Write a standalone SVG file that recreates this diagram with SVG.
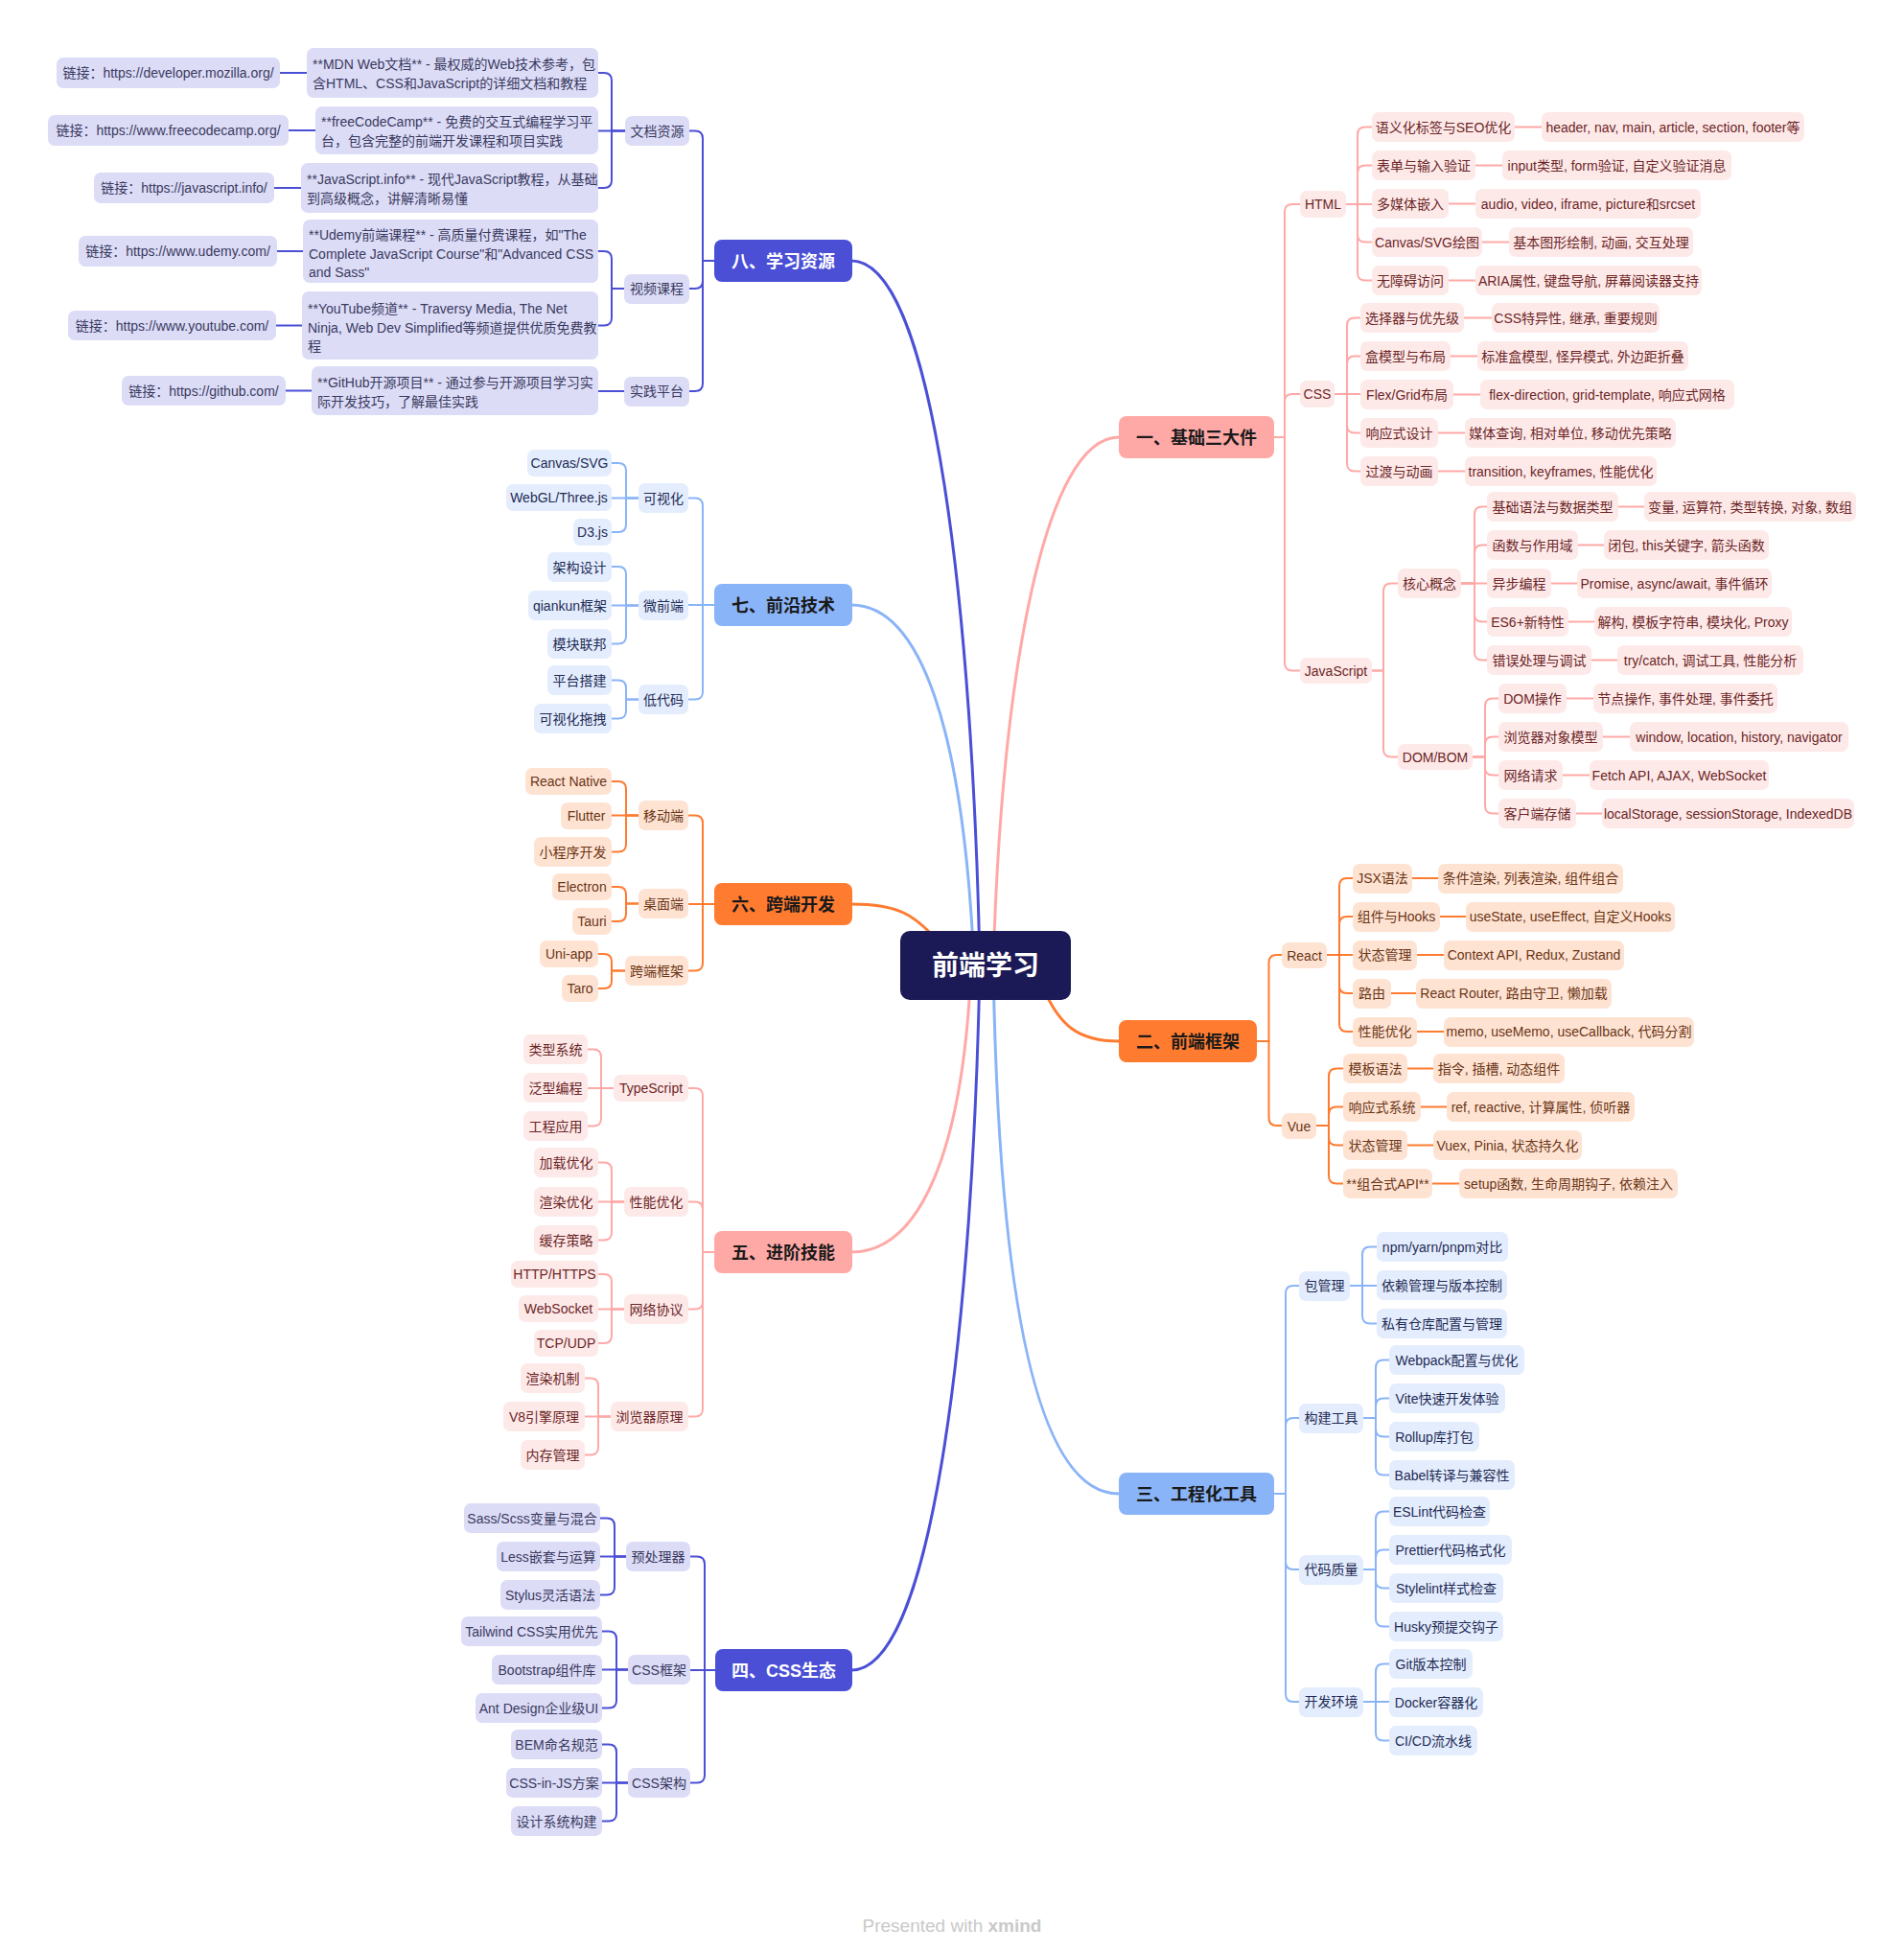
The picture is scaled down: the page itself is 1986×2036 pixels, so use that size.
<svg xmlns="http://www.w3.org/2000/svg" width="1986" height="2036" viewBox="0 0 1986 2036">
<style>
text{font-family:"Liberation Sans","Noto Sans CJK SC",sans-serif;font-size:14px;text-anchor:middle}
.l text{text-anchor:start}
.main text{font-size:18px;font-weight:bold;fill:#1a1a1a}
.main.w text{fill:#ffffff}
.root{font-size:28px;font-weight:bold;fill:#ffffff}
.ni rect{fill:#DCDCF7}.ni text{fill:#3A3A5E}
.nb rect{fill:#E4EDFD}.nb text{fill:#1E2B55}
.no rect{fill:#FEE3D3}.no text{fill:#6B3515}
.np rect{fill:#FEE9E9}.np text{fill:#6B2626}
#connectors path{fill:none;stroke-width:2;stroke-linecap:round}
#connectors .m path{stroke-width:3}
.ki path{stroke:#4A4FD6}.kb path{stroke:#8AB4F8}.ko path{stroke:#FF7B30}.kp path{stroke:#FFA9A7}
.foot{font-size:19px;fill:#C9C9C9}
</style>
<rect x="0" y="0" width="1986" height="2036" fill="#ffffff"/>
<g id="connectors">
 <g class="m ki"><path d="M888 272 C975 272 1015 650 1022 1007"/><path d="M888 1742 C975 1742 1015 1365 1022 1007"/></g>
 <g class="m kb"><path d="M888 631 C960 631 1005 760 1016 1007"/><path d="M1167 1558 C1085 1558 1042 1370 1036 1007"/></g>
 <g class="m ko"><path d="M888 943 C935 943 955 952 985 990"/><path d="M1167 1086 C1125 1086 1105 1070 1088 1030"/></g>
 <g class="m kp"><path d="M888 1306 C960 1306 1005 1200 1013 1007"/><path d="M1167 456 C1090 456 1045 700 1036 1007"/></g>
 <g class="ki">
  <path d="M745 272 H733 V144.5 Q733 136.5 725 136.5 H719"/>
  <path d="M745 272 H733 V293 Q733 301 725 301 H719"/>
  <path d="M745 272 H733 V400 Q733 408 725 408 H719"/>
  <path d="M652 136.5 H638 V84 Q638 76 630 76 H624"/>
  <path d="M652 136.5 H624"/>
  <path d="M652 136.5 H638 V188 Q638 196 630 196 H624"/>
  <path d="M292 76 H320"/><path d="M301 136 H329"/><path d="M286 196 H314"/>
  <path d="M651 301 H638 V270 Q638 262 630 262 H624"/>
  <path d="M651 301 H638 V331.5 Q638 339.5 630 339.5 H624"/>
  <path d="M289 262 H316"/><path d="M288 339.5 H315"/>
  <path d="M651 408 H624"/><path d="M298 407.5 H325"/>
  <path d="M746 1742 H735 V1631.5 Q735 1623.5 727 1623.5 H720"/>
  <path d="M746 1742 H720"/>
  <path d="M746 1742 H735 V1851.5 Q735 1859.5 727 1859.5 H720"/>
  <path d="M653 1623.5 H641 V1591.5 Q641 1583.5 633 1583.5 H626"/>
  <path d="M653 1623.5 H626"/>
  <path d="M653 1623.5 H641 V1655.5 Q641 1663.5 633 1663.5 H626"/>
  <path d="M655 1741.5 H643 V1709.5 Q643 1701.5 635 1701.5 H628"/>
  <path d="M655 1741.5 H628"/>
  <path d="M655 1741.5 H643 V1773.5 Q643 1781.5 635 1781.5 H628"/>
  <path d="M655 1859.5 H643 V1827.5 Q643 1819.5 635 1819.5 H628"/>
  <path d="M655 1859.5 H628"/>
  <path d="M655 1859.5 H643 V1891.5 Q643 1899.5 635 1899.5 H628"/>
 </g>
 <g class="kb">
  <path d="M745 631 H733 V527.5 Q733 519.5 725 519.5 H718"/>
  <path d="M745 631 H718"/>
  <path d="M745 631 H733 V721.5 Q733 729.5 725 729.5 H718"/>
  <path d="M666 519.5 H653 V491 Q653 483 645 483 H638"/>
  <path d="M666 519.5 H638"/>
  <path d="M666 519.5 H653 V547 Q653 555 645 555 H638"/>
  <path d="M666 631.5 H653 V599 Q653 591 645 591 H638"/>
  <path d="M666 631.5 H638"/>
  <path d="M666 631.5 H653 V663.5 Q653 671.5 645 671.5 H638"/>
  <path d="M666 729.5 H653 V717.5 Q653 709.5 645 709.5 H638"/>
  <path d="M666 729.5 H653 V741.5 Q653 749.5 645 749.5 H638"/>
  <path d="M1329 1558 H1341 V1349 Q1341 1341 1349 1341 H1355"/>
  <path d="M1329 1558 H1341 V1487 Q1341 1479 1349 1479 H1355"/>
  <path d="M1329 1558 H1341 V1629 Q1341 1637 1349 1637 H1355"/>
  <path d="M1329 1558 H1341 V1767 Q1341 1775 1349 1775 H1355"/>
  <path d="M1408 1341 H1421 V1308.5 Q1421 1300.5 1429 1300.5 H1436"/>
  <path d="M1408 1341 H1436"/>
  <path d="M1408 1341 H1421 V1372.5 Q1421 1380.5 1429 1380.5 H1436"/>
  <path d="M1422 1479 H1435 V1426.5 Q1435 1418.5 1443 1418.5 H1449"/>
  <path d="M1422 1479 H1435 V1466.5 Q1435 1458.5 1443 1458.5 H1449"/>
  <path d="M1422 1479 H1435 V1490.5 Q1435 1498.5 1443 1498.5 H1449"/>
  <path d="M1422 1479 H1435 V1530.5 Q1435 1538.5 1443 1538.5 H1449"/>
  <path d="M1422 1637 H1435 V1584.5 Q1435 1576.5 1443 1576.5 H1449"/>
  <path d="M1422 1637 H1435 V1624.5 Q1435 1616.5 1443 1616.5 H1449"/>
  <path d="M1422 1637 H1435 V1648.5 Q1435 1656.5 1443 1656.5 H1449"/>
  <path d="M1422 1637 H1435 V1688.5 Q1435 1696.5 1443 1696.5 H1449"/>
  <path d="M1422 1775 H1435 V1743.5 Q1435 1735.5 1443 1735.5 H1449"/>
  <path d="M1422 1775 H1449"/>
  <path d="M1422 1775 H1435 V1807.5 Q1435 1815.5 1443 1815.5 H1449"/>
 </g>
 <g class="ko">
  <path d="M745 943 H733 V858.5 Q733 850.5 725 850.5 H718"/>
  <path d="M745 943 H718"/>
  <path d="M745 943 H733 V1004.5 Q733 1012.5 725 1012.5 H718"/>
  <path d="M666 850.5 H653 V823 Q653 815 645 815 H638"/>
  <path d="M666 850.5 H638"/>
  <path d="M666 850.5 H653 V880.5 Q653 888.5 645 888.5 H638"/>
  <path d="M666 942.5 H653 V933 Q653 925 645 925 H638"/>
  <path d="M666 942.5 H653 V953 Q653 961 645 961 H638"/>
  <path d="M652 1012.5 H638 V1003 Q638 995 630 995 H624"/>
  <path d="M652 1012.5 H638 V1023 Q638 1031 630 1031 H624"/>
  <path d="M1311 1086 H1323.5 V1004 Q1323.5 996 1331.5 996 H1337"/>
  <path d="M1311 1086 H1323.5 V1166 Q1323.5 1174 1331.5 1174 H1337"/>
  <path d="M1384 996 H1397 V924 Q1397 916 1405 916 H1411"/>
  <path d="M1384 996 H1397 V964 Q1397 956 1405 956 H1411"/>
  <path d="M1384 996 H1411"/>
  <path d="M1384 996 H1397 V1028 Q1397 1036 1405 1036 H1411"/>
  <path d="M1384 996 H1397 V1068 Q1397 1076 1405 1076 H1411"/>
  <path d="M1473 916 H1500"/><path d="M1502 956 H1529"/><path d="M1478 996 H1506"/><path d="M1451 1036 H1477"/><path d="M1478 1076 H1506"/>
  <path d="M1373 1174 H1386 V1122.5 Q1386 1114.5 1394 1114.5 H1401"/>
  <path d="M1373 1174 H1386 V1162.5 Q1386 1154.5 1394 1154.5 H1401"/>
  <path d="M1373 1174 H1386 V1186.5 Q1386 1194.5 1394 1194.5 H1401"/>
  <path d="M1373 1174 H1386 V1226.5 Q1386 1234.5 1394 1234.5 H1401"/>
  <path d="M1468 1114.5 H1495"/><path d="M1482 1154.5 H1509"/><path d="M1468 1194.5 H1495"/><path d="M1494 1234.5 H1522"/>
 </g>
 <g class="kp">
  <path d="M745 1306 H733 V1143 Q733 1135 725 1135 H718"/>
  <path d="M745 1306 H733 V1261.5 Q733 1253.5 725 1253.5 H718"/>
  <path d="M745 1306 H733 V1357.5 Q733 1365.5 725 1365.5 H718"/>
  <path d="M745 1306 H733 V1469.5 Q733 1477.5 725 1477.5 H718"/>
  <path d="M640 1135 H627 V1102.5 Q627 1094.5 619 1094.5 H613"/>
  <path d="M640 1135 H613"/>
  <path d="M640 1135 H627 V1166.5 Q627 1174.5 619 1174.5 H613"/>
  <path d="M651 1253.5 H638 V1220.5 Q638 1212.5 630 1212.5 H624"/>
  <path d="M651 1253.5 H624"/>
  <path d="M651 1253.5 H638 V1285.5 Q638 1293.5 630 1293.5 H624"/>
  <path d="M651 1365.5 H638 V1337 Q638 1329 630 1329 H624"/>
  <path d="M651 1365.5 H624"/>
  <path d="M651 1365.5 H638 V1393 Q638 1401 630 1401 H624"/>
  <path d="M637 1477.5 H624 V1445.5 Q624 1437.5 616 1437.5 H610"/>
  <path d="M637 1477.5 H610"/>
  <path d="M637 1477.5 H624 V1509.5 Q624 1517.5 616 1517.5 H610"/>
  <path d="M1329 456 H1340 V221 Q1340 213 1348 213 H1356"/>
  <path d="M1329 456 H1340 V419 Q1340 411 1348 411 H1356"/>
  <path d="M1329 456 H1340 V691.5 Q1340 699.5 1348 699.5 H1356"/>
  <path d="M1404 213 H1416 V140.5 Q1416 132.5 1424 132.5 H1431"/>
  <path d="M1404 213 H1416 V180.5 Q1416 172.5 1424 172.5 H1431"/>
  <path d="M1404 213 H1431"/>
  <path d="M1404 213 H1416 V244.5 Q1416 252.5 1424 252.5 H1431"/>
  <path d="M1404 213 H1416 V284.5 Q1416 292.5 1424 292.5 H1431"/>
  <path d="M1580 132.5 H1608"/><path d="M1539 172.5 H1567"/><path d="M1511 212.5 H1539"/><path d="M1546 252.5 H1574"/><path d="M1511 292.5 H1539"/>
  <path d="M1392 411 H1405 V339.5 Q1405 331.5 1413 331.5 H1419"/>
  <path d="M1392 411 H1405 V379.5 Q1405 371.5 1413 371.5 H1419"/>
  <path d="M1392 411 H1419"/>
  <path d="M1392 411 H1405 V443.5 Q1405 451.5 1413 451.5 H1419"/>
  <path d="M1392 411 H1405 V483.5 Q1405 491.5 1413 491.5 H1419"/>
  <path d="M1527 331.5 H1556"/><path d="M1513 371.5 H1541"/><path d="M1516 411.5 H1544"/><path d="M1500 451.5 H1528"/><path d="M1500 491.5 H1528"/>
  <path d="M1431 699.5 H1443 V616.5 Q1443 608.5 1451 608.5 H1458"/>
  <path d="M1431 699.5 H1443 V781.5 Q1443 789.5 1451 789.5 H1458"/>
  <path d="M1524 608.5 H1538 V536.5 Q1538 528.5 1546 528.5 H1551"/>
  <path d="M1524 608.5 H1538 V576.5 Q1538 568.5 1546 568.5 H1551"/>
  <path d="M1524 608.5 H1551"/>
  <path d="M1524 608.5 H1538 V640.5 Q1538 648.5 1546 648.5 H1551"/>
  <path d="M1524 608.5 H1538 V680.5 Q1538 688.5 1546 688.5 H1551"/>
  <path d="M1688 528.5 H1715"/><path d="M1646 568.5 H1673"/><path d="M1618 608.5 H1645"/><path d="M1636 648.5 H1663"/><path d="M1660 688.5 H1687"/>
  <path d="M1536 789.5 H1549 V736.5 Q1549 728.5 1557 728.5 H1563"/>
  <path d="M1536 789.5 H1549 V776.5 Q1549 768.5 1557 768.5 H1563"/>
  <path d="M1536 789.5 H1549 V800.5 Q1549 808.5 1557 808.5 H1563"/>
  <path d="M1536 789.5 H1549 V840.5 Q1549 848.5 1557 848.5 H1563"/>
  <path d="M1634 728.5 H1662"/><path d="M1672 768.5 H1700"/><path d="M1630 808.5 H1658"/><path d="M1644 848.5 H1671"/>
 </g>
</g>
<g id="n-root"><rect x="939" y="971" width="178" height="72" rx="10" fill="#1C1A56"/><text class="root" x="1028" y="1017">前端学习</text></g>
<g id="n-b8" class="main w"><rect x="745" y="250" width="144" height="44" rx="8" fill="#4A4FD6"/><text x="817" y="278.5">八、学习资源</text></g>
<g id="n-b7" class="main"><rect x="745" y="609" width="144" height="44" rx="8" fill="#8AB4F8"/><text x="817" y="637.5">七、前沿技术</text></g>
<g id="n-b6" class="main"><rect x="745" y="921" width="144" height="44" rx="8" fill="#FF7B30"/><text x="817" y="949.5">六、跨端开发</text></g>
<g id="n-b5" class="main"><rect x="745" y="1284" width="144" height="44" rx="8" fill="#FFA9A7"/><text x="817" y="1312.5">五、进阶技能</text></g>
<g id="n-b4" class="main w"><rect x="746" y="1720" width="143" height="44" rx="8" fill="#4A4FD6"/><text x="817.5" y="1748.5">四、CSS生态</text></g>
<g id="n-b1" class="main"><rect x="1167" y="434" width="162" height="44" rx="8" fill="#FFA9A7"/><text x="1248" y="462.5">一、基础三大件</text></g>
<g id="n-b2" class="main"><rect x="1167" y="1064" width="144" height="44" rx="8" fill="#FF7B30"/><text x="1239" y="1092.5">二、前端框架</text></g>
<g id="n-b3" class="main"><rect x="1167" y="1536" width="162" height="44" rx="8" fill="#8AB4F8"/><text x="1248" y="1564.5">三、工程化工具</text></g>

<g class="ni">
 <g id="n8-docs"><rect x="652" y="121" width="67" height="31" rx="7"/><text x="685.5" y="141.5">文档资源</text></g>
 <g id="n8-video"><rect x="651" y="286" width="68" height="31" rx="7"/><text x="685" y="306">视频课程</text></g>
 <g id="n8-prac"><rect x="651" y="393" width="68" height="31" rx="7"/><text x="685" y="413">实践平台</text></g>
 <g id="n8-mdn" class="l"><rect x="320" y="50" width="304" height="52" rx="7"/><text x="326" y="71.5">**MDN Web文档** - 最权威的Web技术参考，包</text><text x="326" y="92">含HTML、CSS和JavaScript的详细文档和教程</text></g>
 <g id="n8-mdn-link"><rect x="59" y="60" width="233" height="32" rx="7"/><text x="175.5" y="81">链接：https://developer.mozilla.org/</text></g>
 <g id="n8-fcc" class="l"><rect x="329" y="111" width="295" height="50" rx="7"/><text x="335" y="132">**freeCodeCamp** - 免费的交互式编程学习平</text><text x="335" y="152">台，包含完整的前端开发课程和项目实践</text></g>
 <g id="n8-fcc-link"><rect x="50" y="120" width="251" height="32" rx="7"/><text x="175.5" y="141">链接：https://www.freecodecamp.org/</text></g>
 <g id="n8-jsinfo" class="l"><rect x="314" y="170" width="310" height="52" rx="7"/><text x="320" y="191.5">**JavaScript.info** - 现代JavaScript教程，从基础</text><text x="320" y="211.5">到高级概念，讲解清晰易懂</text></g>
 <g id="n8-jsinfo-link"><rect x="98" y="180" width="188" height="32" rx="7"/><text x="192" y="201">链接：https://javascript.info/</text></g>
 <g id="n8-udemy" class="l"><rect x="316" y="229" width="308" height="66" rx="7"/><text x="322" y="249.5">**Udemy前端课程** - 高质量付费课程，如"The</text><text x="322" y="269.5">Complete JavaScript Course"和"Advanced CSS</text><text x="322" y="289">and Sass"</text></g>
 <g id="n8-udemy-link"><rect x="82" y="246" width="207" height="32" rx="7"/><text x="185.5" y="267">链接：https://www.udemy.com/</text></g>
 <g id="n8-yt" class="l"><rect x="315" y="304" width="309" height="71" rx="7"/><text x="321" y="326.5">**YouTube频道** - Traversy Media, The Net</text><text x="321" y="346.5">Ninja, Web Dev Simplified等频道提供优质免费教</text><text x="321" y="366">程</text></g>
 <g id="n8-yt-link"><rect x="71" y="324" width="217" height="31" rx="7"/><text x="179.5" y="344.5">链接：https://www.youtube.com/</text></g>
 <g id="n8-gh" class="l"><rect x="325" y="382" width="299" height="51" rx="7"/><text x="331" y="403.5">**GitHub开源项目** - 通过参与开源项目学习实</text><text x="331" y="423.5">际开发技巧，了解最佳实践</text></g>
 <g id="n8-gh-link"><rect x="127" y="392" width="171" height="31" rx="7"/><text x="212.5" y="412.5">链接：https://github.com/</text></g>

 <g id="n4-pre"><rect x="653" y="1608" width="67" height="31" rx="7"/><text x="686.5" y="1628.5">预处理器</text></g>
 <g id="n4-fw"><rect x="655" y="1726" width="65" height="31" rx="7"/><text x="687.5" y="1746.5">CSS框架</text></g>
 <g id="n4-arch"><rect x="655" y="1844" width="65" height="31" rx="7"/><text x="687.5" y="1864.5">CSS架构</text></g>
 <g id="n4-sass"><rect x="484" y="1568" width="142" height="31" rx="7"/><text x="555" y="1588.5">Sass/Scss变量与混合</text></g>
 <g id="n4-less"><rect x="518" y="1608" width="108" height="31" rx="7"/><text x="572" y="1628.5">Less嵌套与运算</text></g>
 <g id="n4-stylus"><rect x="522" y="1648" width="104" height="31" rx="7"/><text x="574" y="1668.5">Stylus灵活语法</text></g>
 <g id="n4-tw"><rect x="481" y="1686" width="147" height="31" rx="7"/><text x="554.5" y="1706.5">Tailwind CSS实用优先</text></g>
 <g id="n4-bs"><rect x="513" y="1726" width="115" height="31" rx="7"/><text x="570.5" y="1746.5">Bootstrap组件库</text></g>
 <g id="n4-ant"><rect x="496" y="1766" width="132" height="31" rx="7"/><text x="562" y="1786.5">Ant Design企业级UI</text></g>
 <g id="n4-bem"><rect x="533" y="1804" width="95" height="31" rx="7"/><text x="580.5" y="1824.5">BEM命名规范</text></g>
 <g id="n4-cssinjs"><rect x="528" y="1844" width="100" height="31" rx="7"/><text x="578" y="1864.5">CSS-in-JS方案</text></g>
 <g id="n4-ds"><rect x="533" y="1884" width="95" height="31" rx="7"/><text x="580.5" y="1904.5">设计系统构建</text></g>
</g>

<g class="nb">
 <g id="n7-vis"><rect x="666" y="504" width="52" height="31" rx="7"/><text x="692" y="524.5">可视化</text></g>
 <g id="n7-mfe"><rect x="666" y="616" width="52" height="31" rx="7"/><text x="692" y="636.5">微前端</text></g>
 <g id="n7-lc"><rect x="666" y="714" width="52" height="31" rx="7"/><text x="692" y="734.5">低代码</text></g>
 <g id="n7-canvas"><rect x="550" y="469" width="88" height="28" rx="7"/><text x="594" y="488">Canvas/SVG</text></g>
 <g id="n7-webgl"><rect x="528" y="505" width="110" height="28" rx="7"/><text x="583" y="524">WebGL/Three.js</text></g>
 <g id="n7-d3"><rect x="598" y="541" width="40" height="28" rx="7"/><text x="618" y="560">D3.js</text></g>
 <g id="n7-arch"><rect x="571" y="576" width="67" height="31" rx="7"/><text x="604.5" y="596.5">架构设计</text></g>
 <g id="n7-qk"><rect x="551" y="616" width="87" height="31" rx="7"/><text x="594.5" y="636.5">qiankun框架</text></g>
 <g id="n7-mf"><rect x="571" y="656" width="67" height="31" rx="7"/><text x="604.5" y="676.5">模块联邦</text></g>
 <g id="n7-plat"><rect x="571" y="694" width="67" height="31" rx="7"/><text x="604.5" y="714.5">平台搭建</text></g>
 <g id="n7-drag"><rect x="557" y="734" width="81" height="31" rx="7"/><text x="597.5" y="754.5">可视化拖拽</text></g>

 <g id="n3-pkg"><rect x="1355" y="1326" width="53" height="31" rx="7"/><text x="1381.5" y="1346">包管理</text></g>
 <g id="n3-build"><rect x="1355" y="1464" width="67" height="31" rx="7"/><text x="1388.5" y="1484">构建工具</text></g>
 <g id="n3-quality"><rect x="1355" y="1622" width="67" height="31" rx="7"/><text x="1388.5" y="1642">代码质量</text></g>
 <g id="n3-env"><rect x="1355" y="1760" width="67" height="31" rx="7"/><text x="1388.5" y="1780">开发环境</text></g>
 <g id="n3-npm"><rect x="1436" y="1285" width="137" height="31" rx="7"/><text x="1504.5" y="1305.5">npm/yarn/pnpm对比</text></g>
 <g id="n3-dep"><rect x="1436" y="1325" width="136" height="31" rx="7"/><text x="1504" y="1345.5">依赖管理与版本控制</text></g>
 <g id="n3-priv"><rect x="1436" y="1365" width="136" height="31" rx="7"/><text x="1504" y="1385.5">私有仓库配置与管理</text></g>
 <g id="n3-webpack"><rect x="1449" y="1403" width="141" height="31" rx="7"/><text x="1519.5" y="1423.5">Webpack配置与优化</text></g>
 <g id="n3-vite"><rect x="1449" y="1443" width="121" height="31" rx="7"/><text x="1509.5" y="1463.5">Vite快速开发体验</text></g>
 <g id="n3-rollup"><rect x="1449" y="1483" width="94" height="31" rx="7"/><text x="1496" y="1503.5">Rollup库打包</text></g>
 <g id="n3-babel"><rect x="1449" y="1523" width="131" height="31" rx="7"/><text x="1514.5" y="1543.5">Babel转译与兼容性</text></g>
 <g id="n3-eslint"><rect x="1449" y="1561" width="105" height="31" rx="7"/><text x="1501.5" y="1581.5">ESLint代码检查</text></g>
 <g id="n3-prettier"><rect x="1449" y="1601" width="128" height="31" rx="7"/><text x="1513" y="1621.5">Prettier代码格式化</text></g>
 <g id="n3-stylelint"><rect x="1449" y="1641" width="119" height="31" rx="7"/><text x="1508.5" y="1661.5">Stylelint样式检查</text></g>
 <g id="n3-husky"><rect x="1449" y="1681" width="119" height="31" rx="7"/><text x="1508.5" y="1701.5">Husky预提交钩子</text></g>
 <g id="n3-git"><rect x="1449" y="1720" width="87" height="31" rx="7"/><text x="1492.5" y="1740.5">Git版本控制</text></g>
 <g id="n3-docker"><rect x="1449" y="1760" width="98" height="31" rx="7"/><text x="1498" y="1780.5">Docker容器化</text></g>
 <g id="n3-cicd"><rect x="1449" y="1800" width="92" height="31" rx="7"/><text x="1495" y="1820.5">CI/CD流水线</text></g>
</g>

<g class="no">
 <g id="n6-mobile"><rect x="666" y="835" width="52" height="31" rx="7"/><text x="692" y="855.5">移动端</text></g>
 <g id="n6-desk"><rect x="666" y="927" width="52" height="31" rx="7"/><text x="692" y="947.5">桌面端</text></g>
 <g id="n6-cross"><rect x="652" y="997" width="66" height="31" rx="7"/><text x="685" y="1017.5">跨端框架</text></g>
 <g id="n6-rn"><rect x="548" y="801" width="90" height="28" rx="7"/><text x="593" y="820">React Native</text></g>
 <g id="n6-flutter"><rect x="585" y="837" width="53" height="28" rx="7"/><text x="611.5" y="856">Flutter</text></g>
 <g id="n6-mini"><rect x="557" y="873" width="81" height="31" rx="7"/><text x="597.5" y="893.5">小程序开发</text></g>
 <g id="n6-electron"><rect x="576" y="911" width="62" height="28" rx="7"/><text x="607" y="930">Electron</text></g>
 <g id="n6-tauri"><rect x="597" y="947" width="41" height="28" rx="7"/><text x="617.5" y="966">Tauri</text></g>
 <g id="n6-uni"><rect x="563" y="981" width="61" height="28" rx="7"/><text x="593.5" y="1000">Uni-app</text></g>
 <g id="n6-taro"><rect x="586" y="1017" width="38" height="28" rx="7"/><text x="605" y="1036">Taro</text></g>

 <g id="n2-react"><rect x="1337" y="983" width="47" height="27" rx="7"/><text x="1360.5" y="1001.5">React</text></g>
 <g id="n2-vue"><rect x="1337" y="1161" width="36" height="27" rx="7"/><text x="1355" y="1179.5">Vue</text></g>
 <g id="n2-jsx"><rect x="1411" y="901" width="62" height="31" rx="7"/><text x="1442" y="921">JSX语法</text></g>
 <g id="n2-jsx-v"><rect x="1500" y="901" width="193" height="31" rx="7"/><text x="1596.5" y="921">条件渲染, 列表渲染, 组件组合</text></g>
 <g id="n2-hooks"><rect x="1411" y="941" width="91" height="31" rx="7"/><text x="1456.5" y="961">组件与Hooks</text></g>
 <g id="n2-hooks-v"><rect x="1529" y="941" width="218" height="31" rx="7"/><text x="1638" y="961">useState, useEffect, 自定义Hooks</text></g>
 <g id="n2-rstate"><rect x="1411" y="981" width="67" height="31" rx="7"/><text x="1444.5" y="1001">状态管理</text></g>
 <g id="n2-rstate-v"><rect x="1506" y="981" width="188" height="31" rx="7"/><text x="1600" y="1001">Context API, Redux, Zustand</text></g>
 <g id="n2-router"><rect x="1411" y="1021" width="40" height="31" rx="7"/><text x="1431" y="1041">路由</text></g>
 <g id="n2-router-v"><rect x="1477" y="1021" width="204" height="31" rx="7"/><text x="1579" y="1041">React Router, 路由守卫, 懒加载</text></g>
 <g id="n2-perf"><rect x="1411" y="1061" width="67" height="31" rx="7"/><text x="1444.5" y="1081">性能优化</text></g>
 <g id="n2-perf-v"><rect x="1506" y="1061" width="261" height="31" rx="7"/><text x="1636.5" y="1081">memo, useMemo, useCallback, 代码分割</text></g>
 <g id="n2-tpl"><rect x="1401" y="1099" width="67" height="31" rx="7"/><text x="1434.5" y="1119.5">模板语法</text></g>
 <g id="n2-tpl-v"><rect x="1495" y="1099" width="137" height="31" rx="7"/><text x="1563.5" y="1119.5">指令, 插槽, 动态组件</text></g>
 <g id="n2-reac"><rect x="1401" y="1139" width="81" height="31" rx="7"/><text x="1441.5" y="1159.5">响应式系统</text></g>
 <g id="n2-reac-v"><rect x="1509" y="1139" width="196" height="31" rx="7"/><text x="1607" y="1159.5">ref, reactive, 计算属性, 侦听器</text></g>
 <g id="n2-vstate"><rect x="1401" y="1179" width="67" height="31" rx="7"/><text x="1434.5" y="1199.5">状态管理</text></g>
 <g id="n2-vstate-v"><rect x="1495" y="1179" width="155" height="31" rx="7"/><text x="1572.5" y="1199.5">Vuex, Pinia, 状态持久化</text></g>
 <g id="n2-comp"><rect x="1401" y="1219" width="93" height="31" rx="7"/><text x="1447.5" y="1239.5">**组合式API**</text></g>
 <g id="n2-comp-v"><rect x="1522" y="1219" width="228" height="31" rx="7"/><text x="1636" y="1239.5">setup函数, 生命周期钩子, 依赖注入</text></g>
</g>

<g class="np">
 <g id="n5-ts"><rect x="640" y="1121" width="78" height="28" rx="7"/><text x="679" y="1140">TypeScript</text></g>
 <g id="n5-perf"><rect x="651" y="1238" width="67" height="31" rx="7"/><text x="684.5" y="1258.5">性能优化</text></g>
 <g id="n5-net"><rect x="651" y="1350" width="67" height="31" rx="7"/><text x="684.5" y="1370.5">网络协议</text></g>
 <g id="n5-browser"><rect x="637" y="1462" width="81" height="31" rx="7"/><text x="677.5" y="1482.5">浏览器原理</text></g>
 <g id="n5-types"><rect x="546" y="1079" width="67" height="31" rx="7"/><text x="579.5" y="1099.5">类型系统</text></g>
 <g id="n5-generic"><rect x="546" y="1119" width="67" height="31" rx="7"/><text x="579.5" y="1139.5">泛型编程</text></g>
 <g id="n5-eng"><rect x="546" y="1159" width="67" height="31" rx="7"/><text x="579.5" y="1179.5">工程应用</text></g>
 <g id="n5-load"><rect x="557" y="1197" width="67" height="31" rx="7"/><text x="590.5" y="1217.5">加载优化</text></g>
 <g id="n5-render"><rect x="557" y="1238" width="67" height="31" rx="7"/><text x="590.5" y="1258.5">渲染优化</text></g>
 <g id="n5-cache"><rect x="557" y="1278" width="67" height="31" rx="7"/><text x="590.5" y="1298.5">缓存策略</text></g>
 <g id="n5-http"><rect x="533" y="1315" width="91" height="28" rx="7"/><text x="578.5" y="1334">HTTP/HTTPS</text></g>
 <g id="n5-ws"><rect x="541" y="1351" width="83" height="28" rx="7"/><text x="582.5" y="1370">WebSocket</text></g>
 <g id="n5-tcp"><rect x="557" y="1387" width="67" height="28" rx="7"/><text x="590.5" y="1406">TCP/UDP</text></g>
 <g id="n5-rmech"><rect x="543" y="1422" width="67" height="31" rx="7"/><text x="576.5" y="1442.5">渲染机制</text></g>
 <g id="n5-v8"><rect x="525" y="1462" width="85" height="31" rx="7"/><text x="567.5" y="1482.5">V8引擎原理</text></g>
 <g id="n5-mem"><rect x="543" y="1502" width="67" height="31" rx="7"/><text x="576.5" y="1522.5">内存管理</text></g>

 <g id="n1-html"><rect x="1356" y="199" width="48" height="28" rx="7"/><text x="1380" y="218">HTML</text></g>
 <g id="n1-css"><rect x="1356" y="397" width="36" height="28" rx="7"/><text x="1374" y="416">CSS</text></g>
 <g id="n1-js"><rect x="1356" y="686" width="75" height="27" rx="7"/><text x="1393.5" y="704.5">JavaScript</text></g>
 <g id="n1-seo"><rect x="1431" y="117" width="149" height="31" rx="7"/><text x="1505.5" y="137.5">语义化标签与SEO优化</text></g>
 <g id="n1-seo-v"><rect x="1608" y="117" width="274" height="31" rx="7"/><text x="1745" y="137.5">header, nav, main, article, section, footer等</text></g>
 <g id="n1-form"><rect x="1431" y="157" width="108" height="31" rx="7"/><text x="1485" y="177.5">表单与输入验证</text></g>
 <g id="n1-form-v"><rect x="1567" y="157" width="239" height="31" rx="7"/><text x="1686.5" y="177.5">input类型, form验证, 自定义验证消息</text></g>
 <g id="n1-media"><rect x="1431" y="197" width="80" height="31" rx="7"/><text x="1471" y="217.5">多媒体嵌入</text></g>
 <g id="n1-media-v"><rect x="1539" y="197" width="235" height="31" rx="7"/><text x="1656.5" y="217.5">audio, video, iframe, picture和srcset</text></g>
 <g id="n1-canvas"><rect x="1431" y="237" width="115" height="31" rx="7"/><text x="1488.5" y="257.5">Canvas/SVG绘图</text></g>
 <g id="n1-canvas-v"><rect x="1574" y="237" width="192" height="31" rx="7"/><text x="1670" y="257.5">基本图形绘制, 动画, 交互处理</text></g>
 <g id="n1-a11y"><rect x="1431" y="277" width="80" height="31" rx="7"/><text x="1471" y="297.5">无障碍访问</text></g>
 <g id="n1-a11y-v"><rect x="1539" y="277" width="236" height="31" rx="7"/><text x="1657" y="297.5">ARIA属性, 键盘导航, 屏幕阅读器支持</text></g>
 <g id="n1-sel"><rect x="1419" y="316" width="108" height="31" rx="7"/><text x="1473" y="336.5">选择器与优先级</text></g>
 <g id="n1-sel-v"><rect x="1556" y="316" width="175" height="31" rx="7"/><text x="1643.5" y="336.5">CSS特异性, 继承, 重要规则</text></g>
 <g id="n1-box"><rect x="1419" y="356" width="94" height="31" rx="7"/><text x="1466" y="376.5">盒模型与布局</text></g>
 <g id="n1-box-v"><rect x="1541" y="356" width="220" height="31" rx="7"/><text x="1651" y="376.5">标准盒模型, 怪异模式, 外边距折叠</text></g>
 <g id="n1-flex"><rect x="1419" y="396" width="97" height="31" rx="7"/><text x="1467.5" y="416.5">Flex/Grid布局</text></g>
 <g id="n1-flex-v"><rect x="1544" y="396" width="265" height="31" rx="7"/><text x="1676.5" y="416.5">flex-direction, grid-template, 响应式网格</text></g>
 <g id="n1-resp"><rect x="1419" y="436" width="81" height="31" rx="7"/><text x="1459.5" y="456.5">响应式设计</text></g>
 <g id="n1-resp-v"><rect x="1528" y="436" width="220" height="31" rx="7"/><text x="1638" y="456.5">媒体查询, 相对单位, 移动优先策略</text></g>
 <g id="n1-anim"><rect x="1419" y="476" width="81" height="31" rx="7"/><text x="1459.5" y="496.5">过渡与动画</text></g>
 <g id="n1-anim-v"><rect x="1528" y="476" width="200" height="31" rx="7"/><text x="1628" y="496.5">transition, keyframes, 性能优化</text></g>
 <g id="n1-core"><rect x="1458" y="593" width="66" height="31" rx="7"/><text x="1491" y="613.5">核心概念</text></g>
 <g id="n1-dombom"><rect x="1458" y="776" width="78" height="27" rx="7"/><text x="1497" y="794.5">DOM/BOM</text></g>
 <g id="n1-syntax"><rect x="1551" y="513" width="137" height="31" rx="7"/><text x="1619.5" y="533.5">基础语法与数据类型</text></g>
 <g id="n1-syntax-v"><rect x="1715" y="513" width="221" height="31" rx="7"/><text x="1825.5" y="533.5">变量, 运算符, 类型转换, 对象, 数组</text></g>
 <g id="n1-func"><rect x="1551" y="553" width="95" height="31" rx="7"/><text x="1598.5" y="573.5">函数与作用域</text></g>
 <g id="n1-func-v"><rect x="1673" y="553" width="172" height="31" rx="7"/><text x="1759" y="573.5">闭包, this关键字, 箭头函数</text></g>
 <g id="n1-async"><rect x="1551" y="593" width="67" height="31" rx="7"/><text x="1584.5" y="613.5">异步编程</text></g>
 <g id="n1-async-v"><rect x="1645" y="593" width="203" height="31" rx="7"/><text x="1746.5" y="613.5">Promise, async/await, 事件循环</text></g>
 <g id="n1-es6"><rect x="1551" y="633" width="85" height="31" rx="7"/><text x="1593.5" y="653.5">ES6+新特性</text></g>
 <g id="n1-es6-v"><rect x="1663" y="633" width="206" height="31" rx="7"/><text x="1766" y="653.5">解构, 模板字符串, 模块化, Proxy</text></g>
 <g id="n1-err"><rect x="1551" y="673" width="109" height="31" rx="7"/><text x="1605.5" y="693.5">错误处理与调试</text></g>
 <g id="n1-err-v"><rect x="1687" y="673" width="194" height="31" rx="7"/><text x="1784" y="693.5">try/catch, 调试工具, 性能分析</text></g>
 <g id="n1-dom"><rect x="1563" y="713" width="71" height="31" rx="7"/><text x="1598.5" y="733.5">DOM操作</text></g>
 <g id="n1-dom-v"><rect x="1662" y="713" width="192" height="31" rx="7"/><text x="1758" y="733.5">节点操作, 事件处理, 事件委托</text></g>
 <g id="n1-bom"><rect x="1563" y="753" width="109" height="31" rx="7"/><text x="1617.5" y="773.5">浏览器对象模型</text></g>
 <g id="n1-bom-v"><rect x="1700" y="753" width="228" height="31" rx="7"/><text x="1814" y="773.5">window, location, history, navigator</text></g>
 <g id="n1-req"><rect x="1563" y="793" width="67" height="31" rx="7"/><text x="1596.5" y="813.5">网络请求</text></g>
 <g id="n1-req-v"><rect x="1658" y="793" width="187" height="31" rx="7"/><text x="1751.5" y="813.5">Fetch API, AJAX, WebSocket</text></g>
 <g id="n1-store"><rect x="1563" y="833" width="81" height="31" rx="7"/><text x="1603.5" y="853.5">客户端存储</text></g>
 <g id="n1-store-v"><rect x="1671" y="833" width="263" height="31" rx="7"/><text x="1802.5" y="853.5">localStorage, sessionStorage, IndexedDB</text></g>
</g>

<text class="foot" x="993" y="2015">Presented with <tspan font-weight="bold">xmind</tspan></text>
</svg>
